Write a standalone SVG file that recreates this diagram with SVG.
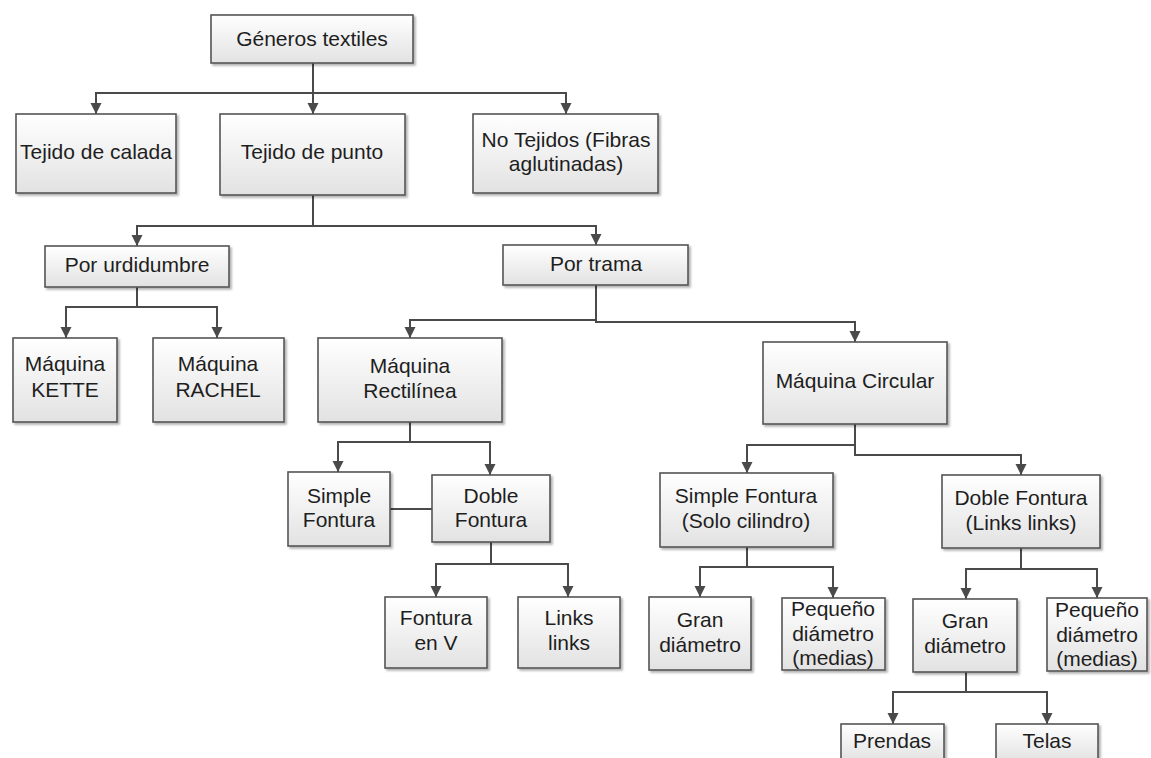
<svg xmlns="http://www.w3.org/2000/svg" width="1151" height="758" viewBox="0 0 1151 758">
  <defs>
    <linearGradient id="boxFill" x1="0" y1="0" x2="0" y2="1">
      <stop offset="0" stop-color="#ffffff"/>
      <stop offset="1" stop-color="#e2e2e2"/>
    </linearGradient>
    <filter id="shadow" x="-10%" y="-10%" width="130%" height="130%">
      <feDropShadow dx="2" dy="2" stdDeviation="1.2" flood-color="#000" flood-opacity="0.3"/>
    </filter>
    <marker id="arrow" markerUnits="userSpaceOnUse" markerWidth="12" markerHeight="12" refX="11" refY="5.5" orient="auto">
      <path d="M0,0 L11,5.5 L0,11 z" fill="#4a4a4a"/>
    </marker>
  </defs>
  <style>
    .node rect { fill: url(#boxFill); stroke: #555555; stroke-width: 1.6; filter: url(#shadow); }
    .node text { font-family: "Liberation Sans", Arial, sans-serif; font-size: 21px; fill: #1e1e1e; text-anchor: middle; }
    .edges path { fill: none; stroke: #4a4a4a; stroke-width: 2; }
    .edges .arr { marker-end: url(#arrow); }
  </style>
  <rect width="1151" height="758" fill="#ffffff"/>

  <!-- connectors -->
  <g class="edges">
    <path d="M313,63 V93"/>
    <path class="arr" d="M313,93 H96 V114"/>
    <path class="arr" d="M313,93 V114"/>
    <path class="arr" d="M313,93 H566 V114"/>

    <path d="M313,195 V226"/>
    <path class="arr" d="M313,226 H137 V246"/>
    <path class="arr" d="M313,226 H596 V245"/>

    <path d="M137,287 V307"/>
    <path class="arr" d="M137,307 H66 V338"/>
    <path class="arr" d="M137,307 H217 V338"/>

    <path class="arr" d="M596,285 V320 H410 V338"/>
    <path class="arr" d="M596,318 V322 H855 V342"/>

    <path d="M410,422 V442"/>
    <path class="arr" d="M410,442 H338 V472"/>
    <path class="arr" d="M410,442 H490 V475"/>
    <path d="M390,509 H432"/>

    <path d="M491,542 V564"/>
    <path class="arr" d="M491,564 H436 V597"/>
    <path class="arr" d="M491,564 H568 V597"/>

    <path class="arr" d="M855,424 V445 H747 V473"/>
    <path class="arr" d="M855,443 V455 H1021 V475"/>

    <path d="M747,547 V567"/>
    <path class="arr" d="M747,567 H700 V597"/>
    <path class="arr" d="M747,567 H833 V598"/>

    <path d="M1021,548 V569"/>
    <path class="arr" d="M1021,569 H966 V599"/>
    <path class="arr" d="M1021,569 H1097 V598"/>

    <path d="M966,672 V692"/>
    <path class="arr" d="M966,692 H893 V724"/>
    <path class="arr" d="M966,692 H1047 V724"/>
  </g>

  <!-- nodes -->
  <g id="generos" class="node">
    <rect x="211" y="15" width="202" height="48"/>
    <text x="312" y="46">Géneros textiles</text>
  </g>
  <g id="calada" class="node">
    <rect x="16" y="114" width="160" height="79"/>
    <text x="96" y="159">Tejido de calada</text>
  </g>
  <g id="punto" class="node">
    <rect x="220" y="114" width="185" height="81"/>
    <text x="312" y="159">Tejido de punto</text>
  </g>
  <g id="no-tejidos" class="node">
    <rect x="473" y="114" width="185" height="79"/>
    <text x="566" y="147">No Tejidos (Fibras</text>
    <text x="566" y="171">aglutinadas)</text>
  </g>
  <g id="urdidumbre" class="node">
    <rect x="45" y="246" width="184" height="41"/>
    <text x="137" y="272">Por urdidumbre</text>
  </g>
  <g id="trama" class="node">
    <rect x="503" y="245" width="185" height="40"/>
    <text x="596" y="271">Por trama</text>
  </g>
  <g id="kette" class="node">
    <rect x="13" y="338" width="104" height="84"/>
    <text x="65" y="371">Máquina</text>
    <text x="65" y="397">KETTE</text>
  </g>
  <g id="rachel" class="node">
    <rect x="153" y="338" width="131" height="84"/>
    <text x="218" y="371">Máquina</text>
    <text x="218" y="397">RACHEL</text>
  </g>
  <g id="rectilinea" class="node">
    <rect x="318" y="338" width="184" height="84"/>
    <text x="410" y="373">Máquina</text>
    <text x="410" y="398">Rectilínea</text>
  </g>
  <g id="circular" class="node">
    <rect x="763" y="342" width="184" height="82"/>
    <text x="855" y="388">Máquina Circular</text>
  </g>
  <g id="rect-simple" class="node">
    <rect x="288" y="472" width="102" height="74"/>
    <text x="339" y="503">Simple</text>
    <text x="339" y="527">Fontura</text>
  </g>
  <g id="rect-doble" class="node">
    <rect x="432" y="475" width="118" height="67"/>
    <text x="491" y="503">Doble</text>
    <text x="491" y="527">Fontura</text>
  </g>
  <g id="fontura-v" class="node">
    <rect x="385" y="597" width="102" height="71"/>
    <text x="436" y="625">Fontura</text>
    <text x="436" y="650">en V</text>
  </g>
  <g id="links" class="node">
    <rect x="518" y="597" width="102" height="71"/>
    <text x="569" y="625">Links</text>
    <text x="569" y="650">links</text>
  </g>
  <g id="circ-simple" class="node">
    <rect x="660" y="473" width="173" height="74"/>
    <text x="746" y="503">Simple Fontura</text>
    <text x="746" y="528">(Solo cilindro)</text>
  </g>
  <g id="circ-doble" class="node">
    <rect x="942" y="475" width="158" height="73"/>
    <text x="1021" y="505">Doble Fontura</text>
    <text x="1021" y="530">(Links links)</text>
  </g>
  <g id="gran-simple" class="node">
    <rect x="649" y="597" width="102" height="73"/>
    <text x="700" y="627">Gran</text>
    <text x="700" y="652">diámetro</text>
  </g>
  <g id="pequeno-simple" class="node">
    <rect x="782" y="598" width="103" height="72"/>
    <text x="833" y="616">Pequeño</text>
    <text x="833" y="641">diámetro</text>
    <text x="833" y="665">(medias)</text>
  </g>
  <g id="gran-doble" class="node">
    <rect x="913" y="599" width="104" height="73"/>
    <text x="965" y="628">Gran</text>
    <text x="965" y="653">diámetro</text>
  </g>
  <g id="pequeno-doble" class="node">
    <rect x="1047" y="598" width="100" height="73"/>
    <text x="1097" y="617">Pequeño</text>
    <text x="1097" y="642">diámetro</text>
    <text x="1097" y="666">(medias)</text>
  </g>
  <g id="prendas" class="node">
    <rect x="841" y="724" width="103" height="38"/>
    <text x="892" y="748">Prendas</text>
  </g>
  <g id="telas" class="node">
    <rect x="996" y="724" width="102" height="38"/>
    <text x="1047" y="748">Telas</text>
  </g>
</svg>
